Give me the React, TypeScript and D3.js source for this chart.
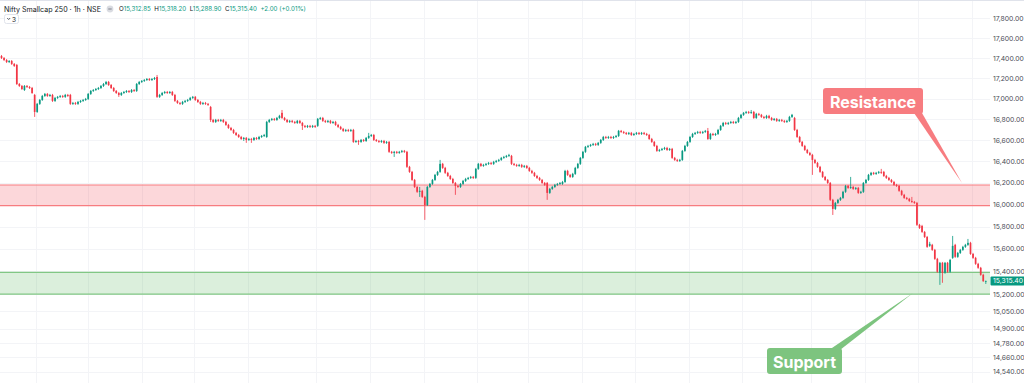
import React from 'react';
import * as d3 from 'd3';

// [open, high, low, close] hourly candles
const ohlc: [number, number, number, number][] = [
  [17420,17430,17390,17400],[17400,17410,17370,17380],[17380,17390,17350,17360],[17360,17380,17350,17370],[17370,17380,17331,17341],
  [17341,17350,17311,17321],[17331,17341,17133,17143],[17143,17153,17114,17124],[17124,17133,17084,17094],[17084,17133,17075,17124],
  [17124,17133,17104,17114],[17114,17124,17094,17104],[17104,17114,17046,17055],[17036,17046,16823,16871],[16871,16958,16862,16949],
  [16949,16997,16939,16987],[16987,17036,16978,17026],[17026,17055,17017,17046],[17046,17055,17017,17026],[17026,17046,17017,17036],
  [17036,17046,16968,16978],[16978,17017,16968,17007],[17007,17026,16997,17017],[17017,17036,17007,17026],[17026,17036,17007,17017],
  [17017,17046,17007,17036],[17036,17046,17017,17026],[17036,17046,16939,16949],[16949,16968,16939,16958],[16958,16968,16939,16949],
  [16949,16978,16939,16968],[16968,16987,16958,16978],[16978,16997,16968,16987],[16987,17007,16978,16997],[16997,17055,16987,17046],
  [17046,17084,17036,17075],[17075,17094,17065,17084],[17084,17104,17075,17094],[17094,17114,17084,17104],[17104,17133,17094,17124],
  [17124,17153,17114,17143],[17143,17173,17133,17163],[17163,17173,17124,17133],[17133,17143,17094,17104],[17104,17114,17065,17075],
  [17075,17084,17046,17055],[17055,17065,17017,17036],[17036,17065,17026,17055],[17055,17075,17046,17065],[17065,17084,17055,17075],
  [17075,17084,17055,17065],[17065,17094,17055,17084],[17084,17094,17065,17075],[17075,17153,17065,17143],[17143,17173,17133,17163],
  [17163,17182,17153,17173],[17173,17192,17163,17182],[17182,17202,17173,17192],[17192,17202,17173,17182],[17182,17202,17173,17192],
  [17192,17212,17182,17202],[17212,17232,17007,17017],[17017,17046,17007,17036],[17036,17065,17026,17055],[17055,17075,17046,17065],
  [17065,17075,17046,17055],[17055,17075,17046,17065],[17065,17075,17026,17036],[17036,17046,16968,16978],[16978,16987,16949,16958],
  [16958,16968,16939,16949],[16949,16978,16939,16968],[16968,16987,16958,16978],[16978,16997,16968,16987],[16987,17017,16978,17007],
  [17007,17026,16997,17017],[17017,17026,16978,16987],[16987,16997,16958,16968],[16968,16978,16939,16949],[16949,16968,16939,16958],
  [16958,16968,16939,16949],[16949,16958,16929,16939],[16919,16929,16775,16794],[16794,16804,16765,16775],[16775,16804,16765,16794],
  [16794,16804,16775,16785],[16785,16804,16775,16794],[16794,16804,16765,16775],[16775,16785,16737,16746],[16746,16756,16708,16717],
  [16717,16727,16689,16698],[16698,16708,16660,16670],[16670,16679,16641,16650],[16650,16660,16622,16631],[16631,16641,16603,16612],
  [16612,16631,16593,16622],[16622,16631,16575,16603],[16603,16622,16593,16612],[16612,16622,16575,16603],[16603,16631,16593,16622],
  [16622,16631,16603,16612],[16612,16641,16603,16631],[16631,16650,16622,16641],[16641,16660,16631,16650],[16631,16785,16622,16775],
  [16775,16804,16765,16794],[16794,16813,16785,16804],[16804,16813,16785,16794],[16794,16823,16785,16813],[16813,16843,16804,16833],
  [16862,16890,16804,16813],[16813,16823,16785,16794],[16794,16804,16765,16775],[16775,16794,16765,16785],[16785,16794,16765,16775],
  [16775,16785,16756,16765],[16765,16794,16756,16785],[16785,16794,16756,16765],[16765,16775,16698,16737],[16737,16746,16717,16727],
  [16727,16746,16717,16737],[16737,16746,16717,16727],[16727,16746,16717,16737],[16737,16746,16717,16727],[16737,16813,16727,16804],
  [16804,16823,16794,16813],[16813,16823,16775,16785],[16785,16794,16765,16775],[16775,16794,16765,16785],[16785,16794,16756,16765],
  [16765,16785,16756,16775],[16775,16785,16737,16746],[16746,16756,16717,16727],[16727,16737,16698,16708],[16708,16717,16679,16689],
  [16689,16708,16679,16698],[16698,16708,16679,16689],[16689,16708,16679,16698],[16698,16708,16575,16584],[16584,16603,16575,16593],
  [16593,16603,16556,16584],[16584,16612,16575,16603],[16603,16612,16584,16593],[16593,16631,16584,16622],[16622,16670,16612,16641],
  [16641,16660,16631,16650],[16650,16660,16593,16603],[16603,16612,16584,16593],[16593,16603,16575,16584],[16584,16603,16575,16593],
  [16593,16603,16565,16575],[16575,16593,16565,16584],[16584,16593,16480,16490],[16490,16499,16471,16480],[16480,16499,16442,16490],
  [16490,16499,16471,16480],[16480,16499,16471,16490],[16490,16508,16480,16499],[16499,16508,16480,16490],[16490,16499,16339,16349],
  [16349,16358,16293,16302],[16302,16311,16218,16227],[16227,16236,16153,16162],[16162,16172,16107,16117],[16117,16162,16070,16126],
  [16126,16135,16061,16070],[16070,16080,15860,15996],[15996,16172,15987,16162],[16162,16199,16153,16190],[16190,16236,16181,16227],
  [16227,16283,16218,16274],[16274,16311,16264,16302],[16302,16414,16293,16377],[16377,16386,16330,16339],[16339,16349,16283,16293],
  [16293,16302,16255,16264],[16264,16274,16227,16236],[16236,16246,16190,16199],[16199,16208,16089,16172],[16172,16181,16153,16162],
  [16162,16199,16153,16190],[16190,16227,16181,16218],[16218,16246,16208,16236],[16236,16255,16227,16246],[16246,16264,16236,16255],
  [16255,16264,16236,16246],[16246,16339,16236,16330],[16330,16386,16321,16377],[16377,16386,16349,16358],[16358,16377,16349,16367],
  [16367,16386,16358,16377],[16377,16395,16367,16386],[16386,16395,16367,16377],[16377,16405,16367,16395],[16395,16414,16386,16405],
  [16405,16424,16395,16414],[16414,16442,16405,16433],[16433,16452,16424,16442],[16442,16461,16433,16452],[16452,16471,16442,16461],
  [16452,16461,16367,16377],[16377,16386,16358,16367],[16367,16377,16349,16358],[16358,16377,16349,16367],[16367,16377,16339,16349],
  [16349,16367,16339,16358],[16358,16367,16330,16339],[16339,16349,16302,16311],[16311,16321,16283,16293],[16293,16302,16255,16264],
  [16264,16274,16236,16246],[16246,16255,16218,16227],[16227,16236,16190,16199],[16199,16208,16172,16181],[16199,16208,16043,16107],
  [16107,16153,16098,16144],[16144,16172,16135,16162],[16162,16190,16153,16181],[16181,16199,16172,16190],[16190,16208,16181,16199],
  [16190,16218,16181,16208],[16208,16321,16199,16311],[16311,16321,16264,16274],[16274,16283,16246,16255],[16255,16293,16246,16283],
  [16283,16349,16274,16339],[16339,16386,16330,16377],[16377,16442,16367,16433],[16433,16499,16424,16490],[16490,16546,16480,16537],
  [16537,16556,16527,16546],[16546,16565,16537,16556],[16556,16575,16546,16565],[16565,16575,16546,16556],[16556,16584,16546,16575],
  [16575,16612,16565,16603],[16603,16641,16593,16631],[16631,16641,16612,16622],[16622,16641,16612,16631],[16631,16641,16612,16622],
  [16622,16641,16612,16631],[16631,16650,16622,16641],[16641,16698,16631,16689],[16689,16698,16670,16679],[16679,16689,16660,16670],
  [16670,16679,16650,16660],[16660,16679,16650,16670],[16670,16679,16641,16650],[16650,16670,16641,16660],[16660,16679,16650,16670],
  [16670,16679,16650,16660],[16660,16679,16650,16670],[16670,16679,16650,16660],[16660,16670,16641,16650],[16650,16660,16603,16612],
  [16612,16622,16575,16584],[16584,16593,16537,16546],[16546,16556,16490,16499],[16499,16518,16490,16508],[16508,16527,16499,16518],
  [16518,16537,16508,16527],[16527,16537,16499,16508],[16508,16527,16499,16518],[16518,16527,16424,16433],[16433,16442,16405,16414],
  [16414,16424,16395,16405],[16405,16424,16395,16414],[16414,16508,16405,16499],[16499,16556,16490,16546],[16546,16593,16537,16584],
  [16584,16641,16575,16631],[16631,16670,16622,16660],[16660,16679,16650,16670],[16670,16689,16660,16679],[16679,16689,16660,16670],
  [16670,16689,16660,16679],[16679,16698,16670,16689],[16689,16717,16603,16612],[16612,16670,16603,16660],[16660,16670,16641,16650],
  [16650,16670,16641,16660],[16660,16708,16650,16698],[16698,16746,16689,16737],[16737,16775,16727,16765],[16765,16775,16746,16756],
  [16756,16775,16746,16765],[16765,16785,16756,16775],[16775,16785,16756,16765],[16765,16785,16756,16775],[16775,16823,16765,16813],
  [16813,16852,16804,16843],[16843,16871,16833,16862],[16862,16881,16852,16871],[16871,16881,16852,16862],[16862,16890,16852,16871],
  [16871,16881,16804,16813],[16813,16862,16804,16852],[16852,16862,16833,16843],[16843,16852,16813,16823],[16823,16833,16804,16813],
  [16813,16843,16804,16833],[16833,16843,16804,16813],[16813,16823,16785,16794],[16794,16813,16785,16804],[16804,16813,16775,16785],
  [16785,16804,16775,16794],[16794,16804,16775,16785],[16785,16794,16765,16775],[16775,16794,16765,16785],[16785,16833,16775,16823],
  [16823,16852,16813,16843],[16813,16823,16689,16698],[16698,16708,16622,16631],[16631,16641,16575,16584],[16584,16593,16537,16546],
  [16546,16556,16499,16508],[16508,16518,16471,16480],[16480,16490,16452,16461],[16461,16471,16274,16414],[16414,16424,16377,16386],
  [16386,16395,16339,16349],[16349,16358,16293,16302],[16302,16311,16246,16255],[16255,16264,16218,16227],[16227,16236,16190,16199],
  [16199,16208,16033,16043],[16043,16052,15905,15960],[15960,16024,15951,16015],[16015,16052,16006,16043],[16043,16070,16033,16061],
  [16061,16126,16052,16117],[16117,16181,16107,16172],[16172,16181,16144,16153],[16153,16255,16144,16162],[16162,16172,16135,16144],
  [16144,16162,16135,16153],[16153,16162,16098,16107],[16107,16126,16098,16117],[16117,16208,16107,16199],[16199,16236,16190,16227],
  [16227,16283,16218,16274],[16274,16302,16264,16293],[16293,16302,16274,16283],[16283,16302,16274,16293],[16293,16311,16283,16302],
  [16302,16330,16283,16293],[16302,16311,16255,16264],[16264,16274,16236,16246],[16246,16255,16218,16227],[16227,16236,16199,16208],
  [16208,16218,16172,16181],[16181,16190,16162,16172],[16172,16181,16117,16126],[16126,16135,16080,16089],[16089,16098,16052,16061],
  [16061,16070,16043,16052],[16052,16061,16024,16033],[16033,16070,16015,16024],[16024,16033,16006,16015],[16015,16024,15805,15815],
  [15815,15824,15778,15787],[15805,15815,15742,15751],[15751,15760,15697,15706],[15706,15715,15608,15617],[15626,15662,15617,15644],
  [15635,15644,15581,15590],[15590,15599,15501,15510],[15510,15519,15387,15396],[15387,15483,15281,15475],[15475,15483,15299,15387],
  [15387,15483,15378,15475],[15475,15483,15387,15396],[15396,15510,15387,15501],[15519,15715,15510,15626],[15635,15644,15519,15528],
  [15528,15572,15519,15563],[15563,15599,15554,15590],[15590,15626,15581,15617],[15617,15644,15608,15635],[15635,15688,15626,15653],
  [15653,15662,15546,15554],[15554,15563,15510,15519],[15519,15528,15457,15466],[15466,15475,15422,15431],[15431,15439,15361,15369],
  [15369,15378,15308,15312.85],[15312.85,15318.2,15288.9,15315.4],
];

const priceTicks = [17800, 17600, 17400, 17200, 17000, 16800, 16600, 16400, 16200, 16000, 15800, 15600, 15400, 15200, 15050, 14900, 14780, 14660, 14540];
// time grid positions, in bar index units
const timeGrid = [13.5, 34, 55, 75.5, 96.5, 123.5, 144.5, 165.5, 186.5, 206.5, 227.5, 248.5, 269.5, 290.5, 317.5, 338.5, 359.5, 380.5];
const resistanceZone = [15990, 16180];
const supportZone = [15200, 15390];
const titleText = 'Nifty Smallcap 250 · 1h · NSE';
const legendLabels = ['O', 'H', 'L', 'C'];
const legendValues = ['15,312.85', '15,318.20', '15,288.90', '15,315.40'];
const changeText = '+2.00 (+0.01%)';
const lastPrice = 15315.4;

const UP = '#089981';
const DOWN = '#f23645';
const FONT = 'Inter, Roboto, "Noto Sans", sans-serif';

export default function App() {
  const W = 1024, H = 383;
  const plotRight = 990;
  const x = d3.scaleLinear().domain([0, ohlc.length - 1]).range([1.5, 985.8]);
  const y = d3.scaleLog().domain([14540, 17800]).range([371.7, 18.3]);
  const fmt = d3.format(',.2f');
  const bodyW = 1.7;

  return (
    <svg width={W} height={H} style={{ position: 'absolute', left: 0, top: 0, background: '#fff' }} fontFamily={FONT}>
      <rect x={0} y={0} width={W} height={H} fill="#ffffff" />
      {/* grid */}
      {priceTicks.map((t) => (
        <line key={'h' + t} x1={0} x2={plotRight} y1={Math.round(y(t)) + 0.5} y2={Math.round(y(t)) + 0.5} stroke="#f3f4f7" strokeWidth={1} />
      ))}
      {timeGrid.map((g) => (
        <line key={'v' + g} x1={Math.round(x(g)) + 0.5} x2={Math.round(x(g)) + 0.5} y1={0} y2={H} stroke="#f3f4f7" strokeWidth={1} />
      ))}
      <line x1={0} x2={W} y1={0.5} y2={0.5} stroke="#e0e3eb" />

      {/* zones */}
      <rect x={0} y={y(resistanceZone[1])} width={plotRight} height={y(resistanceZone[0]) - y(resistanceZone[1])} fill="rgba(242,54,69,0.2)" />
      <line x1={0} x2={plotRight} y1={y(resistanceZone[1])} y2={y(resistanceZone[1])} stroke="#f77c80" strokeWidth={1.2} />
      <line x1={0} x2={plotRight} y1={y(resistanceZone[0])} y2={y(resistanceZone[0])} stroke="#f77c80" strokeWidth={1.2} />
      <rect x={0} y={y(supportZone[1])} width={plotRight} height={y(supportZone[0]) - y(supportZone[1])} fill="rgba(76,175,80,0.2)" />
      <line x1={0} x2={plotRight} y1={y(supportZone[1])} y2={y(supportZone[1])} stroke="#81c784" strokeWidth={1.2} />
      <line x1={0} x2={plotRight} y1={y(supportZone[0])} y2={y(supportZone[0])} stroke="#81c784" strokeWidth={1.2} />

      {/* candles */}
      {ohlc.map(([o, h, l, c], i) => {
        const col = c >= o ? UP : DOWN;
        const cx = x(i);
        const top = y(Math.max(o, c));
        const bot = y(Math.min(o, c));
        return (
          <g key={i}>
            <line x1={cx} x2={cx} y1={y(h)} y2={y(l)} stroke={col} strokeWidth={0.8} />
            <rect x={cx - bodyW / 2} y={top} width={bodyW} height={Math.max(0.8, bot - top)} fill={col} />
          </g>
        );
      })}

      {/* price axis */}
      {priceTicks.map((t) => (
        <text key={'t' + t} x={993} y={y(t)} dominantBaseline="central" fontSize={6.8} fill="#4a4d57">{fmt(t)}</text>
      ))}
      <rect x={990.5} y={y(lastPrice) - 4.5} width={34} height={9} rx={1} fill={UP} />
      <text x={993} y={y(lastPrice)} dominantBaseline="central" fontSize={6.8} fill="#ffffff">{fmt(lastPrice)}</text>

      {/* header */}
      <text x={4} y={11.5} fontSize={7.1} fill="#131722">{titleText}</text>
      <circle cx={110} cy={9} r={3.4} fill="#d9dbe1" />
      <line x1={108.3} x2={111.7} y1={9} y2={9} stroke="#6a6d78" strokeWidth={0.8} />
      <text x={119} y={11.3} fontSize={6.2}>
        {legendLabels.map((lab, k) => (
          <React.Fragment key={lab}>
            <tspan fill="#131722" dx={k === 0 ? 0 : 3.5}>{lab}</tspan>
            <tspan fill={UP}>{legendValues[k]}</tspan>
          </React.Fragment>
        ))}
        <tspan fill={UP} dx={3.5}>{changeText}</tspan>
      </text>
      <rect x={4.5} y={14.5} width={14} height={9} rx={2} fill="#fff" stroke="#e0e3eb" />
      <polyline points="7.2,18 8.7,19.5 10.2,18" fill="none" stroke="#131722" strokeWidth={0.7} />
      <text x={12} y={21.5} fontSize={6.5} fill="#131722">3</text>

      {/* callouts */}
      <polygon points="914,113 922,113 962,183" fill="#f77c80" />
      <rect x={823} y={88} width={100} height={26} rx={3} fill="#f77c80" />
      <text x={873} y={101.5} textAnchor="middle" dominantBaseline="central" fontSize={16} fontWeight={700} fill="#ffffff">Resistance</text>

      <polygon points="829,350 840,350 913,293" fill="#7dc47f" />
      <rect x={767} y={348} width={75} height={26} rx={3} fill="#7dc47f" />
      <text x={804.5} y={361.5} textAnchor="middle" dominantBaseline="central" fontSize={16} fontWeight={700} fill="#ffffff">Support</text>
    </svg>
  );
}
